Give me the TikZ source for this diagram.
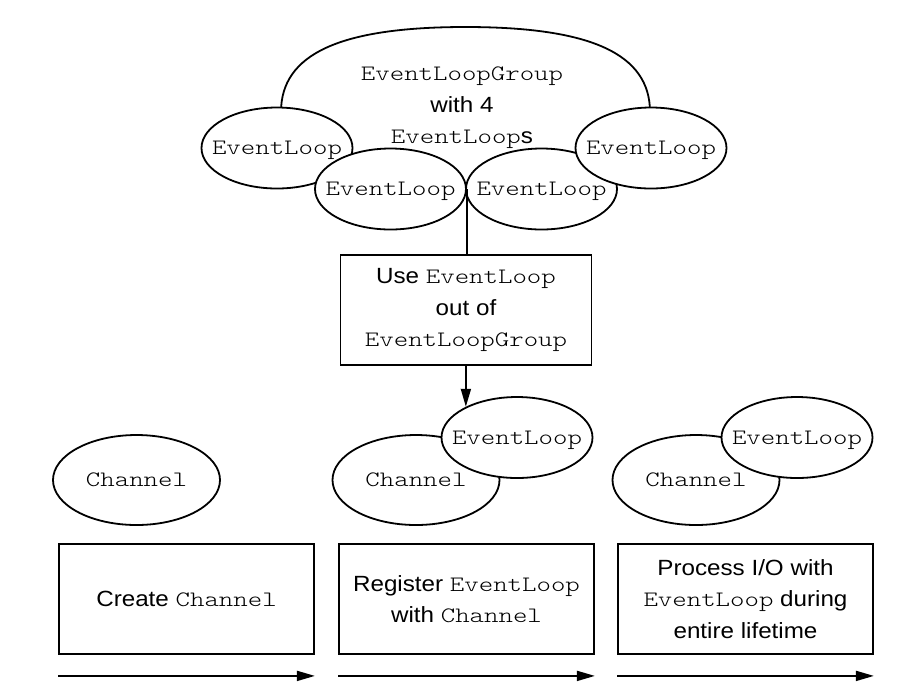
\documentclass[tikz,border=0pt]{standalone}
\usepackage{fontspec}
\setmainfont{Liberation Sans}[FakeStretch=1.1]
\setmonofont{Latin Modern Mono Light}[FakeStretch=1.25]
\usetikzlibrary{shapes.geometric,arrows.meta}

\newcommand\figfont{\fontsize{11}{15.75}\selectfont}

\tikzset{
    evloop/.style={ellipse, draw, fill=white, inner sep=-8pt, text depth=0pt,
        minimum width=75.5pt, minimum height=40.5pt, font=\figfont\ttfamily},
    chan/.style={evloop, minimum width=83.5pt, minimum height=45pt},
    stepbox/.style={rectangle, draw, fill=white, align=center,
        minimum width=127.5pt, minimum height=55pt, font=\figfont},
}

\begin{document}
\begin{tikzpicture}[x=0.5pt, y=-0.5pt, line width=0.9pt, font=\figfont,
    >={Triangle[length=9pt,width=5pt]}]
    \useasboundingbox (0,0) rectangle (916,698);
    % the group around the four loops
    \draw (281,112) .. controls (281,54) and (340,27) .. (465.5,27)
        .. controls (591,27) and (650,54) .. (650,112);
    \node[align=center] (grp) at (462,108)
        {\texttt{EventLoopGroup}\\with 4\\\texttt{EventLoop}s};
    \draw[every node/.style={evloop}]
        (277, 148) node (l1){EventLoop}
        (390.5, 189) node (l2){EventLoop}
        (541.5, 189) node (l3){EventLoop}
        (651, 148) node (l4){EventLoop};
    \node[stepbox, minimum width=125.5pt] (use) at (466,310)
        {Use \texttt{EventLoop}\\out of\\\texttt{EventLoopGroup}};
    % channels and their loops
    \draw[every node/.style={chan}]
        (136.5, 480) node (c1){Channel}
        (416, 480) node (c2){Channel}
        (696, 480) node (c3){Channel};
    \draw[every node/.style={evloop}]
        (517, 437.5) node (l5){EventLoop}
        (797, 437.5) node (l6){EventLoop};
    \draw[every node/.style={stepbox}]
        (186.5, 599) node (s1){Create \texttt{Channel}}
        (466.5, 599) node (s2){Register \texttt{EventLoop}\\with \texttt{Channel}}
        (745.5, 599) node (s3){Process I/O with\\\texttt{EventLoop} during\\entire lifetime};
    \begin{scope}[->]
        \draw[-] (l2.east) -- (l2.east |- use.north);
        \draw (use.south) -- (l5.149.5);
        \draw ([yshift=-10.5pt]s1.south west) -- ([yshift=-10.5pt]s1.south east);
        \draw ([yshift=-10.5pt]s2.south west) -- ([yshift=-10.5pt]s2.south east);
        \draw ([yshift=-10.5pt]s3.south west) -- ([yshift=-10.5pt]s3.south east);
    \end{scope}
\end{tikzpicture}
\end{document}
